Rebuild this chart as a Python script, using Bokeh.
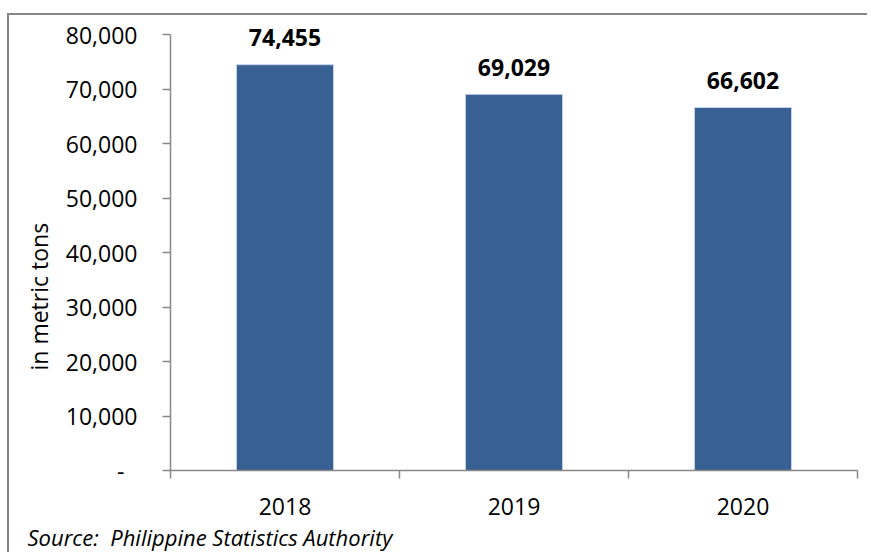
from bokeh.plotting import figure
from bokeh.models import ColumnDataSource, FixedTicker, Range1d, Title
from bokeh.core.properties import value
from bokeh.embed import file_html
from bokeh.resources import INLINE

years = ["2018", "2019", "2020"]
values = [74455, 69029, 66602]
value_labels = ["74,455", "69,029", "66,602"]
y_ticks = [0, 10000, 20000, 30000, 40000, 50000, 60000, 70000, 80000]
y_tick_labels = ["-\u2007", "10,000", "20,000", "30,000", "40,000", "50,000", "60,000", "70,000", "80,000"]
y_title = "in metric tons"
source_note = "Source:\u00a0 Philippine Statistics Authority"

FONT = "Open Sans"
AXIS_GREY = "#888888"
BAR_COLOR = "#386092"

centers = [i + 0.5 for i in range(len(years))]
bounds = [i for i in range(len(years) + 1)]

# headroom above the top tick so the first value label is not clipped
y_max = 82570

src = ColumnDataSource(dict(x=centers, v=values, lab=value_labels))

p = figure(width=860, height=539, x_range=Range1d(0, len(years)), y_range=Range1d(0, y_max),
           output_backend="svg", toolbar_location=None,
           min_border_left=161, min_border_right=12, min_border_top=5, min_border_bottom=84)
p.outline_line_color = None
p.grid.visible = False
p.background_fill_color = "white"
p.border_fill_color = "white"
p.styles = {"border-left": "2px solid #878787", "border-top": "2px solid #878787",
            "margin-left": "7px", "margin-top": "13px"}

p.vbar(x="x", top="v", width=0.424, source=src, fill_color=BAR_COLOR, line_color="#c5d5ea", line_width=1)
p.text(x="x", y="v", text="lab", source=src, text_align="center", text_baseline="alphabetic",
       y_offset=-27, text_font=value(FONT), text_font_style="bold", text_font_size="23px", text_color="black")

ya = p.yaxis[0]
ya.bounds = (y_ticks[0], y_ticks[-1])
ya.ticker = FixedTicker(ticks=y_ticks, minor_ticks=[])
ya.major_label_overrides = {t: l for t, l in zip(y_ticks, y_tick_labels)}
ya.major_tick_out = 8
ya.major_tick_in = 0
ya.minor_tick_out = 0
ya.minor_tick_in = 0
ya.axis_line_color = AXIS_GREY
ya.axis_line_width = 1.5
ya.major_tick_line_color = AXIS_GREY
ya.major_tick_line_width = 1.5
ya.major_label_standoff = 25
ya.major_label_text_align = "right"
ya.major_label_text_font = FONT
ya.major_label_text_font_size = "23px"
ya.major_label_text_color = "black"

xa = p.xaxis[0]
xa.ticker = FixedTicker(ticks=centers, minor_ticks=bounds)
xa.major_label_overrides = {c: y for c, y in zip(centers, years)}
xa.major_tick_out = 0
xa.major_tick_in = 0
xa.minor_tick_out = 8
xa.minor_tick_in = 0
xa.minor_tick_line_color = AXIS_GREY
xa.minor_tick_line_width = 1.5
xa.axis_line_color = AXIS_GREY
xa.axis_line_width = 1.5
xa.major_label_standoff = 19
xa.major_label_text_font = FONT
xa.major_label_text_font_size = "23px"
xa.major_label_text_color = "black"

ytitle = Title(text=y_title, align="left", offset=100, standoff=15,
               text_font=FONT, text_font_style="normal", text_font_size="23px", text_color="black")
p.add_layout(ytitle, "left")

note = Title(text=source_note, align="left", offset=-143, standoff=4,
             text_font=FONT, text_font_style="italic", text_font_size="22px",
             text_color="black")
p.add_layout(note, "below")

open("out.html", "w").write(file_html(p, INLINE))
